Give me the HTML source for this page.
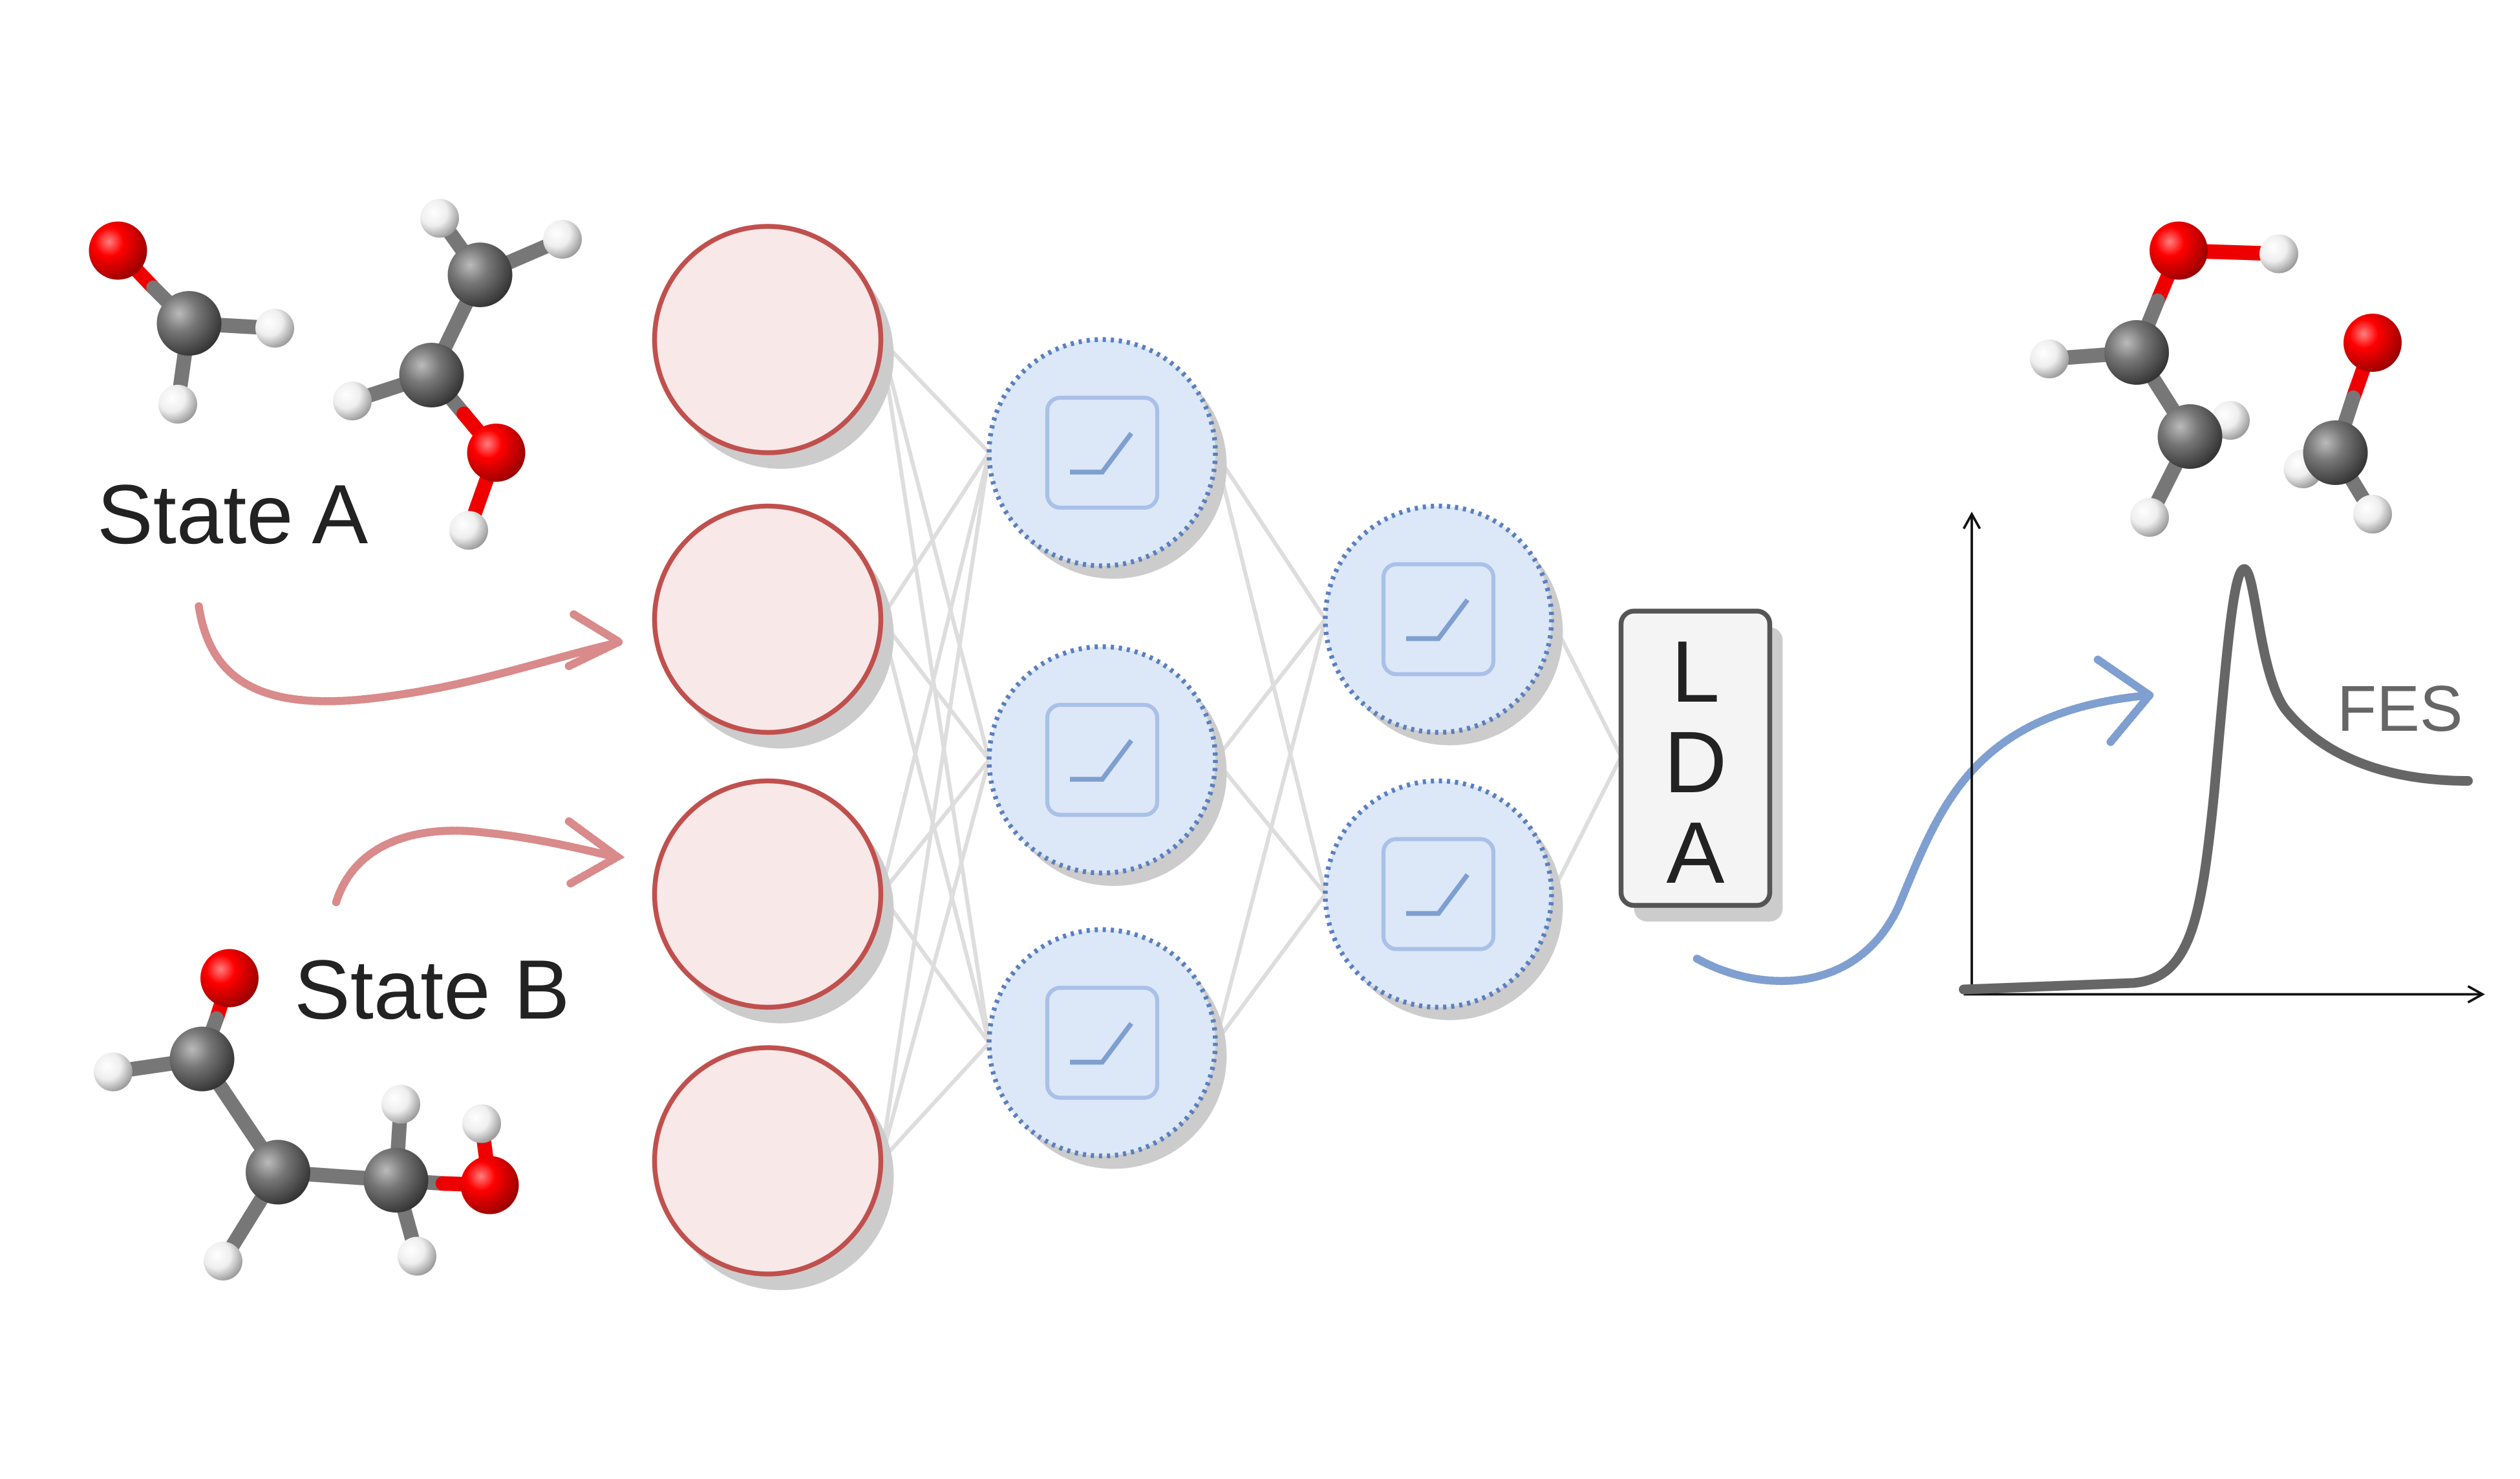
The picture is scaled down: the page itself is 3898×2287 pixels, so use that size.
<!DOCTYPE html>
<html><head><meta charset="utf-8"><style>html,body{margin:0;padding:0;background:#fff;overflow:hidden}svg{display:block}</style></head><body>
<svg width="3898" height="2287" viewBox="0 0 1559.2 914.8" preserveAspectRatio="none" xmlns="http://www.w3.org/2000/svg">
<defs>
<radialGradient id="gO" cx="0.35" cy="0.35" r="0.7"><stop offset="0" stop-color="#ff8080"/><stop offset="0.35" stop-color="#f00"/><stop offset="1" stop-color="#900"/></radialGradient>
<radialGradient id="gC" cx="0.35" cy="0.35" r="0.7"><stop offset="0" stop-color="#bbb"/><stop offset="0.4" stop-color="#777"/><stop offset="1" stop-color="#333"/></radialGradient>
<radialGradient id="gH" cx="0.35" cy="0.35" r="0.7"><stop offset="0" stop-color="#fff"/><stop offset="0.5" stop-color="#eee"/><stop offset="1" stop-color="#999"/></radialGradient>
<g id="relu"><rect x="-34" y="-34" width="68" height="68" rx="8" fill="none" stroke="#a9c0e8" stroke-width="2.5"/><path d="M-20 12 H0 L18 -12" fill="none" stroke="#7f9fd0" stroke-width="3"/></g>
</defs>
<rect width="1560" height="915" fill="#fff"/>
<!-- connections -->
<g stroke="#ddd" stroke-width="2.5">
<line x1="545" y1="210" x2="612" y2="280"/><line x1="545" y1="210" x2="612" y2="470"/><line x1="545" y1="210" x2="612" y2="645"/>
<line x1="545" y1="383" x2="612" y2="280"/><line x1="545" y1="383" x2="612" y2="470"/><line x1="545" y1="383" x2="612" y2="645"/>
<line x1="545" y1="553" x2="612" y2="280"/><line x1="545" y1="553" x2="612" y2="470"/><line x1="545" y1="553" x2="612" y2="645"/>
<line x1="545" y1="718" x2="612" y2="280"/><line x1="545" y1="718" x2="612" y2="470"/><line x1="545" y1="718" x2="612" y2="645"/>
<line x1="752" y1="280" x2="820" y2="383"/><line x1="752" y1="280" x2="820" y2="553"/>
<line x1="752" y1="470" x2="820" y2="383"/><line x1="752" y1="470" x2="820" y2="553"/>
<line x1="752" y1="645" x2="820" y2="383"/><line x1="752" y1="645" x2="820" y2="553"/>
<line x1="960" y1="383" x2="1003" y2="468"/><line x1="960" y1="553" x2="1003" y2="468"/>
</g>
<!-- input nodes -->
<g>
<circle cx="483" cy="220" r="70" fill="#ccc"/><circle cx="475" cy="210" r="70" fill="#f8e8e8" stroke="#c0504d" stroke-width="3"/>
<circle cx="483" cy="393" r="70" fill="#ccc"/><circle cx="475" cy="383" r="70" fill="#f8e8e8" stroke="#c0504d" stroke-width="3"/>
<circle cx="483" cy="563" r="70" fill="#ccc"/><circle cx="475" cy="553" r="70" fill="#f8e8e8" stroke="#c0504d" stroke-width="3"/>
<circle cx="483" cy="728" r="70" fill="#ccc"/><circle cx="475" cy="718" r="70" fill="#f8e8e8" stroke="#c0504d" stroke-width="3"/>
</g>
<!-- hidden nodes -->
<g>
<circle cx="689" cy="288" r="70" fill="#ccc"/><circle cx="682" cy="280" r="70" fill="#dce8f8" stroke="#5a7fbf" stroke-width="3" stroke-dasharray="2 3"/><use href="#relu" x="682" y="280"/>
<circle cx="689" cy="478" r="70" fill="#ccc"/><circle cx="682" cy="470" r="70" fill="#dce8f8" stroke="#5a7fbf" stroke-width="3" stroke-dasharray="2 3"/><use href="#relu" x="682" y="470"/>
<circle cx="689" cy="653" r="70" fill="#ccc"/><circle cx="682" cy="645" r="70" fill="#dce8f8" stroke="#5a7fbf" stroke-width="3" stroke-dasharray="2 3"/><use href="#relu" x="682" y="645"/>
<circle cx="897" cy="391" r="70" fill="#ccc"/><circle cx="890" cy="383" r="70" fill="#dce8f8" stroke="#5a7fbf" stroke-width="3" stroke-dasharray="2 3"/><use href="#relu" x="890" y="383"/>
<circle cx="897" cy="561" r="70" fill="#ccc"/><circle cx="890" cy="553" r="70" fill="#dce8f8" stroke="#5a7fbf" stroke-width="3" stroke-dasharray="2 3"/><use href="#relu" x="890" y="553"/>
</g>
<!-- LDA -->
<rect x="1011" y="388" width="92" height="182" rx="8" fill="#ccc"/>
<rect x="1003" y="378" width="92" height="182" rx="8" fill="#f4f4f4" stroke="#555" stroke-width="3"/>
<g font-family="Liberation Sans, sans-serif" font-size="54" fill="#222" text-anchor="middle">
<text x="1049" y="434">L</text><text x="1049" y="490">D</text><text x="1049" y="546">A</text></g>
<!-- arrows -->
<g fill="none" stroke="#d98a8a" stroke-width="5" stroke-dasharray="1.5 1.5" stroke-linecap="round">
<path d="M123 375 C130 420 160 440 230 432 C290 425 330 410 380 398"/><path d="M355 380 L383 397 L352 412"/>
<path d="M208 558 C220 520 260 510 300 515 C330 518 360 525 380 530"/><path d="M352 508 L382 530 L352 547"/>
</g>
<g fill="none" stroke="#7f9fd0" stroke-width="5" stroke-dasharray="1.5 1.5" stroke-linecap="round">
<path d="M1050 593 C1090 615 1150 615 1175 560 C1200 500 1220 440 1330 430"/><path d="M1298 408 L1330 430 L1305 460"/>
</g>
<!-- axes -->
<g stroke="#111" stroke-width="1.5" fill="none"><line x1="1220" y1="615" x2="1220" y2="318"/><path d="M1215 327 L1220 318 L1225 327"/><line x1="1215" y1="615" x2="1535" y2="615"/><path d="M1527 610 L1536 615 L1527 620"/></g>
<path d="M1215 612 L1320 608 C1355 605 1362 570 1370 490 C1378 400 1382 350 1389 352 C1396 355 1398 420 1415 440 C1440 470 1480 483 1527 483" fill="none" stroke="#666" stroke-width="6" stroke-linecap="round"/>
<text x="1446" y="452" font-family="Liberation Sans, sans-serif" font-size="40" fill="#666">FES</text>
<g font-family="Liberation Sans, sans-serif" font-size="52" fill="#222"><text x="60" y="336">State A</text><text x="182" y="630">State B</text></g>
<!-- molecules -->
<g stroke-width="9" stroke-linecap="round">
<!-- mol1 -->
<line x1="73" y1="155" x2="95" y2="178" stroke="#e00"/><line x1="95" y1="178" x2="117" y2="200" stroke="#777"/>
<line x1="117" y1="200" x2="170" y2="203" stroke="#777"/><line x1="117" y1="200" x2="110" y2="250" stroke="#777"/>
<!-- mol2 -->
<line x1="272" y1="135" x2="297" y2="170" stroke="#777"/><line x1="297" y1="170" x2="348" y2="148" stroke="#777"/><line x1="297" y1="170" x2="267" y2="232" stroke="#777"/>
<line x1="267" y1="232" x2="218" y2="248" stroke="#777"/><line x1="267" y1="232" x2="287" y2="256" stroke="#777"/><line x1="287" y1="256" x2="307" y2="280" stroke="#e00"/><line x1="307" y1="280" x2="290" y2="328" stroke="#e00"/>
<!-- mol3 -->
<line x1="142" y1="605" x2="134" y2="630" stroke="#e00"/><line x1="134" y1="630" x2="125" y2="655" stroke="#777"/><line x1="125" y1="655" x2="70" y2="663" stroke="#777"/>
<line x1="125" y1="655" x2="172" y2="725" stroke="#777"/><line x1="172" y1="725" x2="138" y2="780" stroke="#777"/><line x1="172" y1="725" x2="245" y2="730" stroke="#777"/>
<line x1="245" y1="730" x2="248" y2="683" stroke="#777"/><line x1="245" y1="730" x2="258" y2="777" stroke="#777"/><line x1="245" y1="730" x2="274" y2="732" stroke="#777"/><line x1="274" y1="732" x2="303" y2="733" stroke="#e00"/><line x1="303" y1="733" x2="298" y2="695" stroke="#e00"/>
<!-- mol4 -->
<line x1="1348" y1="155" x2="1410" y2="157" stroke="#e00"/><line x1="1348" y1="155" x2="1335" y2="186" stroke="#e00"/><line x1="1335" y1="186" x2="1322" y2="218" stroke="#777"/>
<line x1="1322" y1="218" x2="1268" y2="222" stroke="#777"/><line x1="1322" y1="218" x2="1355" y2="270" stroke="#777"/><line x1="1355" y1="270" x2="1380" y2="260" stroke="#777"/><line x1="1355" y1="270" x2="1330" y2="320" stroke="#777"/>
<!-- mol5 -->
<line x1="1468" y1="212" x2="1456" y2="246" stroke="#e00"/><line x1="1456" y1="246" x2="1445" y2="280" stroke="#777"/><line x1="1445" y1="280" x2="1425" y2="290" stroke="#777"/><line x1="1445" y1="280" x2="1468" y2="318" stroke="#777"/>
</g>
<g>
<circle cx="73" cy="155" r="18" fill="url(#gO)"/><circle cx="170" cy="203" r="12" fill="url(#gH)"/><circle cx="110" cy="250" r="12" fill="url(#gH)"/><circle cx="117" cy="200" r="20" fill="url(#gC)"/>
<circle cx="272" cy="135" r="12" fill="url(#gH)"/><circle cx="348" cy="148" r="12" fill="url(#gH)"/><circle cx="297" cy="170" r="20" fill="url(#gC)"/><circle cx="218" cy="248" r="12" fill="url(#gH)"/><circle cx="267" cy="232" r="20" fill="url(#gC)"/><circle cx="290" cy="328" r="12" fill="url(#gH)"/><circle cx="307" cy="280" r="18" fill="url(#gO)"/>
<circle cx="142" cy="605" r="18" fill="url(#gO)"/><circle cx="70" cy="663" r="12" fill="url(#gH)"/><circle cx="125" cy="655" r="20" fill="url(#gC)"/><circle cx="138" cy="780" r="12" fill="url(#gH)"/><circle cx="172" cy="725" r="20" fill="url(#gC)"/><circle cx="248" cy="683" r="12" fill="url(#gH)"/><circle cx="258" cy="777" r="12" fill="url(#gH)"/><circle cx="298" cy="695" r="12" fill="url(#gH)"/><circle cx="245" cy="730" r="20" fill="url(#gC)"/><circle cx="303" cy="733" r="18" fill="url(#gO)"/>
<circle cx="1410" cy="157" r="12" fill="url(#gH)"/><circle cx="1348" cy="155" r="18" fill="url(#gO)"/><circle cx="1268" cy="222" r="12" fill="url(#gH)"/><circle cx="1380" cy="260" r="12" fill="url(#gH)"/><circle cx="1322" cy="218" r="20" fill="url(#gC)"/><circle cx="1355" cy="270" r="20" fill="url(#gC)"/><circle cx="1330" cy="320" r="12" fill="url(#gH)"/>
<circle cx="1468" cy="212" r="18" fill="url(#gO)"/><circle cx="1425" cy="290" r="12" fill="url(#gH)"/><circle cx="1445" cy="280" r="20" fill="url(#gC)"/><circle cx="1468" cy="318" r="12" fill="url(#gH)"/>
</g>
</svg>
</body></html>
